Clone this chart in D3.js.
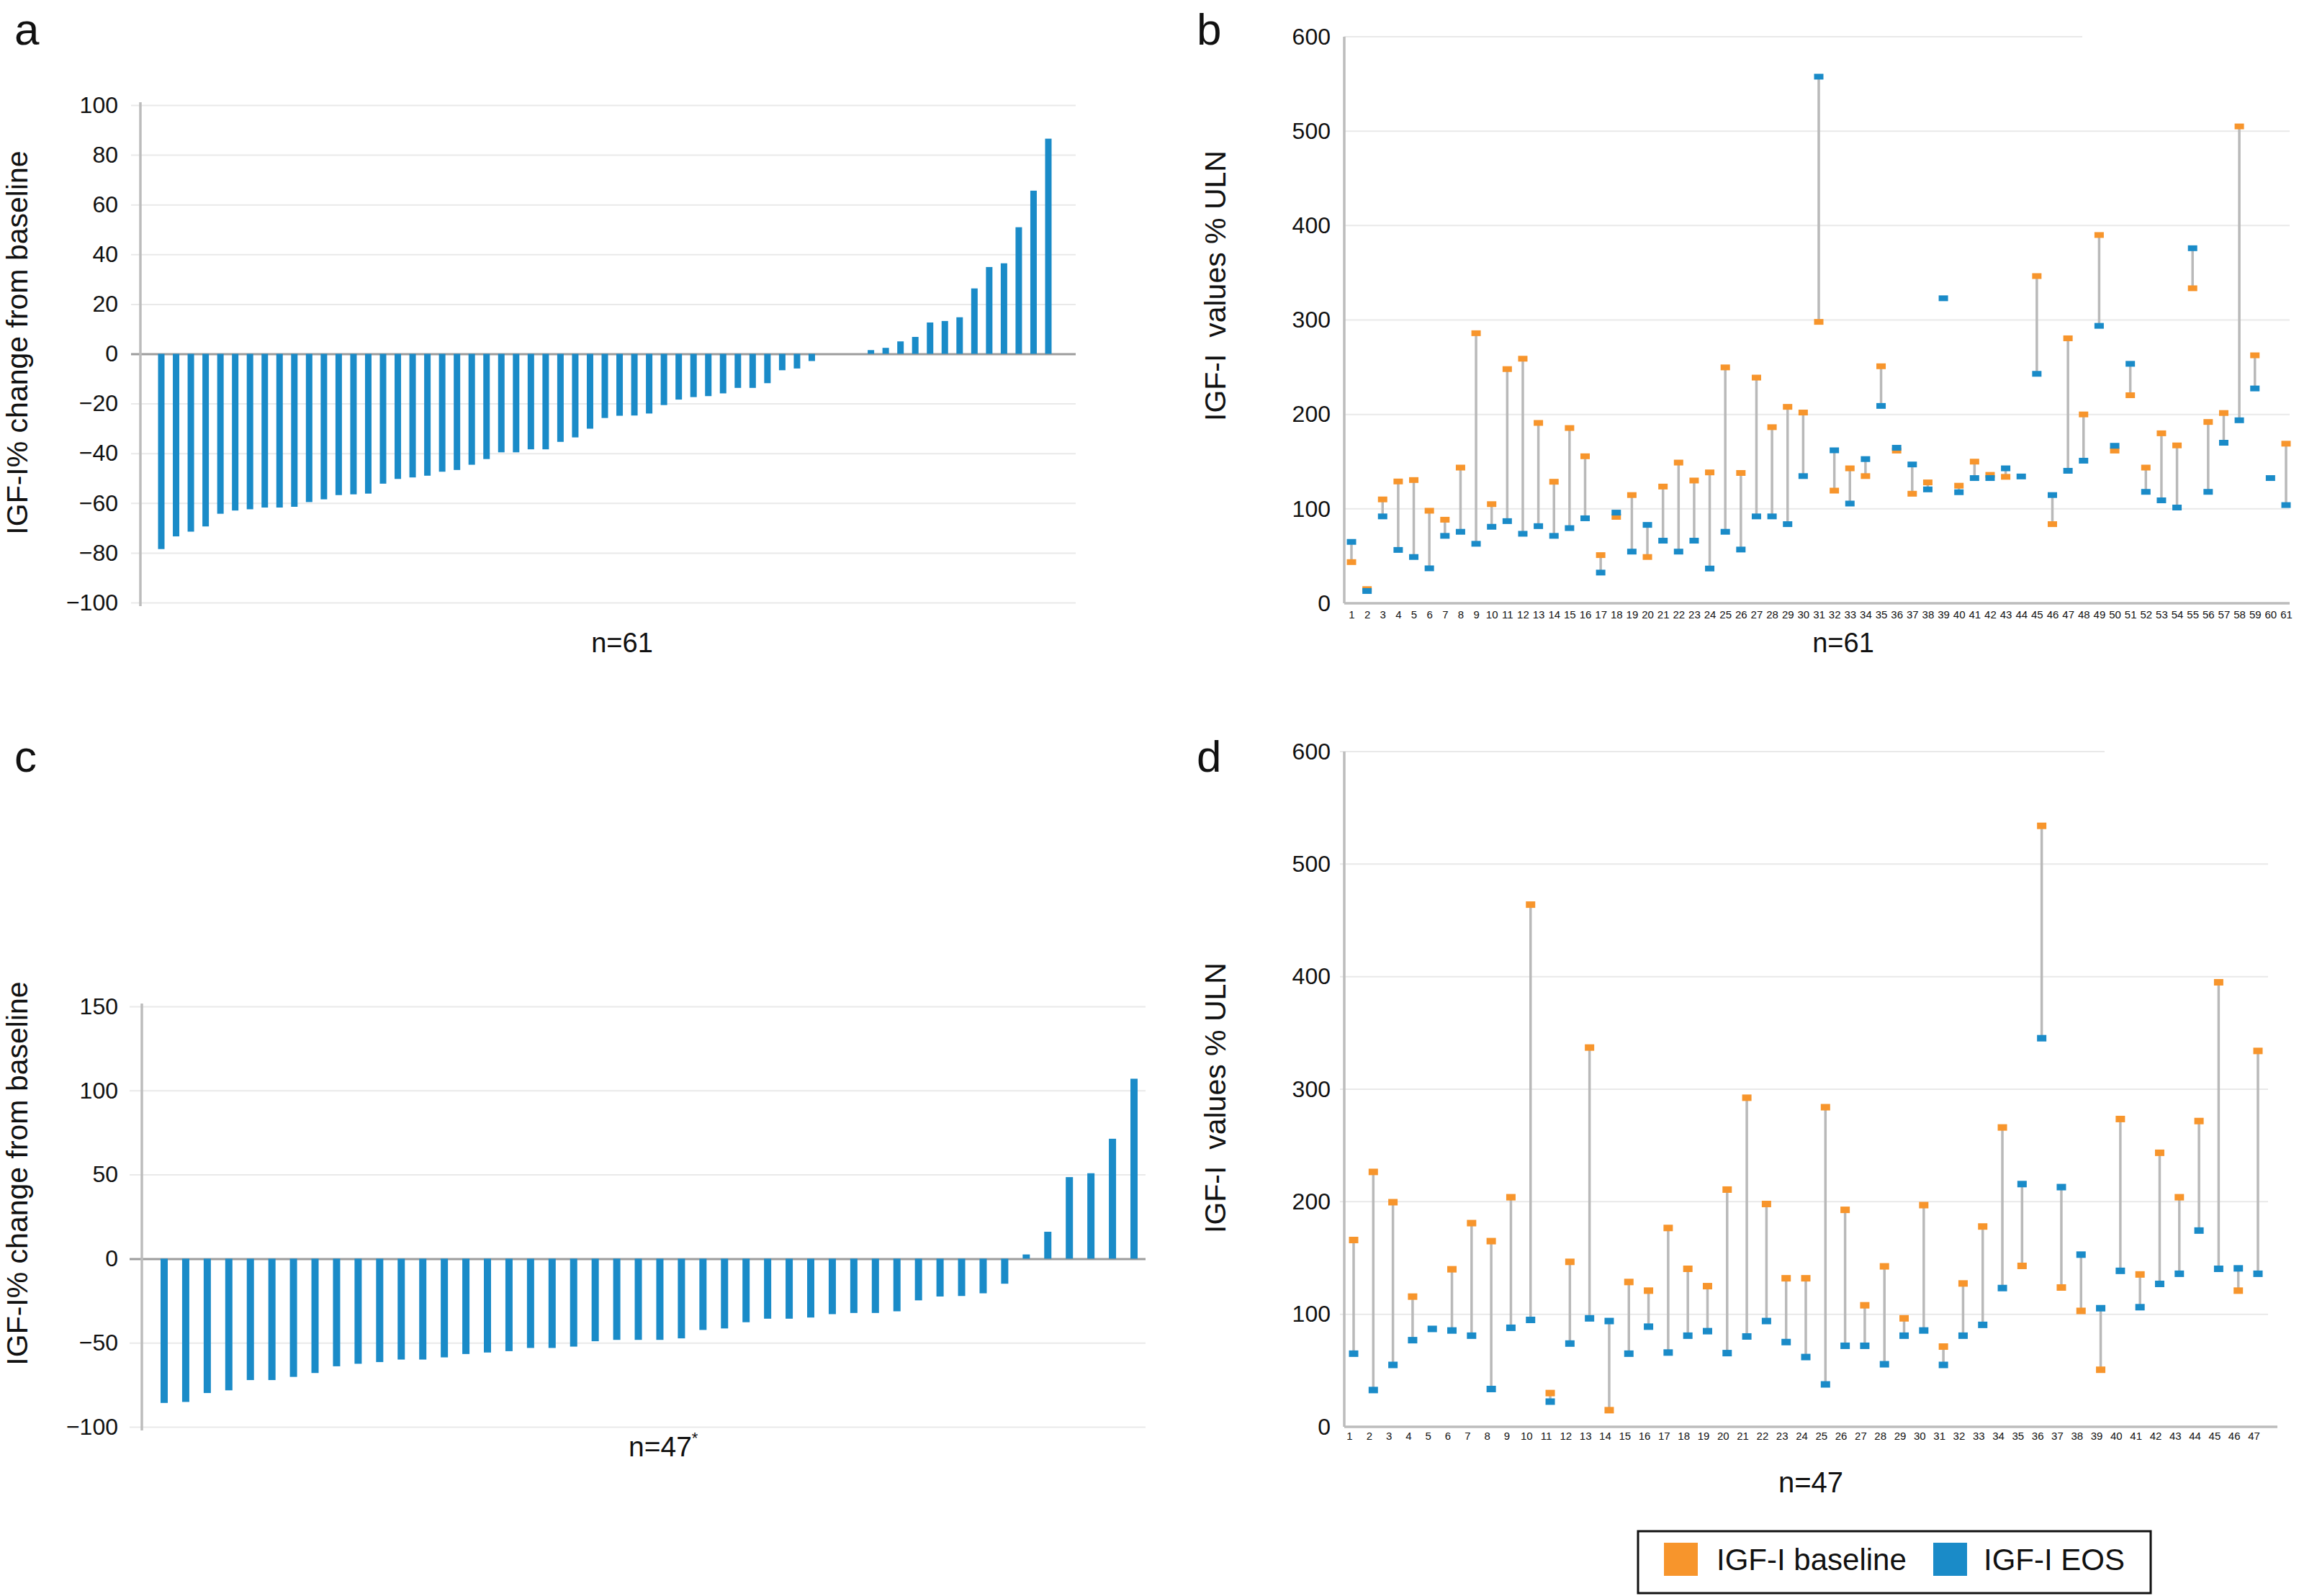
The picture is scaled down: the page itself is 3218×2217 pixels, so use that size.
<!DOCTYPE html>
<html><head><meta charset="utf-8">
<script src="https://cdn.jsdelivr.net/npm/d3@7"></script>
<style>
html,body{margin:0;padding:0;background:#fff;}
text{font-family:"Liberation Sans",Arial,Helvetica,sans-serif;fill:#111;}
</style>
</head><body>
<svg id="fig" width="3218" height="2217"></svg>
<script>
// ---------- DATA ----------
const aChange = [-78.5,-73.4,-71.5,-69.4,-64.3,-63,-62.5,-61.8,-61.8,-61.5,
  -59.6,-58.5,-56.8,-56.5,-56.2,-52.2,-50.3,-49.7,-49,-47.4,
  -46.7,-44.6,-42.3,-39.6,-39.6,-38.4,-38.4,-35.4,-33.6,-30.1,
  -25.8,-24.9,-24.8,-24.0,-20.6,-18.4,-17.4,-17.0,-15.9,-13.7,
  -13.7,-11.8,-6.6,-5.9,-2.9,0,0,0,1.5,2.4,
  5.0,6.8,12.6,13.2,14.7,26.3,34.9,36.4,50.9,65.6,86.5];
const cChange = [-85.8,-85.2,-79.9,-78.3,-72.2,-72.2,-70.3,-68,-64,-62.5,
  -61.5,-60,-60,-58.7,-56.7,-55.8,-55,-53.1,-53.1,-52.3,
  -49.1,-48.3,-48.3,-48.3,-47.4,-42.4,-41.5,-37.8,-35.7,-35.7,
  -35,-33,-32.3,-32.3,-31.3,-24.8,-22.5,-22.2,-20.6,-14.9,
  2.5,16,48.5,50.8,71.3,107];
const bBaseline = [43.6,15,110,129,130.5,98,88.5,143.7,286,105,
  248,259,191,128.7,185.6,155.7,51,91.5,114.6,49,
  123.6,149,130,138.6,249.8,138,239,186.5,208,202,
  298,119.3,142.9,134.7,251,161.7,116,128,null,124.5,
  150,136,133.9,null,346.5,83.8,280.6,200,390,161.7,
  220.3,143.7,180,167.2,333.6,192,201.5,505,262.6,null,169];
const bEOS = [65,13,92,56.5,49,37,71.4,75.7,63,81,
  87,73.6,81.7,71.4,79.6,90,32.5,96,54.7,83,
  66.3,54.7,66.3,36.8,75.7,56.9,92,92,83.8,134.7,
  557.7,162,105.6,152.7,209,164.7,147,120.6,323,117.6,
  132.6,132.6,142.9,134.3,243,114.6,140.3,151,293.8,166.8,
  253.6,118,109,101.4,376,118,170,193.8,227.5,132.6,104];
const dBaseline = [166,226.5,199.6,115.7,null,140,181,165,204,464,
  30,146.6,337,14.8,128.7,121,176.7,140.4,125,210.8,
  292.4,198,132,132,284,192.8,108,142.6,96.4,197,
  71.3,127.4,178,266,143,534,123.8,103,50.7,273.5,
  135.4,243.5,204,271.7,395,121,334];
const dEOS = [65,32.7,55,77,87,85.6,81,33.6,88,95,
  22.4,74,96.4,94,65,89,66,81,85,65.5,
  80.3,94,75.3,62,37.7,72,72,55.6,81,85.6,
  55,81,90.6,123.3,215.7,345.3,213,153,105.4,138.6,
  106.3,127,136,174.4,140.4,140.8,136];
const aTicks = [-100,-80,-60,-40,-20,0,20,40,60,80,100];
const cTicks = [-100,-50,0,50,100,150];
const bdTicks = [0,100,200,300,400,500,600];
const seriesNames = ["IGF-I baseline","IGF-I EOS"];
const changeTitle = "IGF-I% change from baseline";
const ulnTitle = "IGF-I\u00a0\u00a0values % ULN";

// ---------- DRAWING ----------
const ORANGE = "#F7952C", BLUE = "#1A8BC8", GRID = "#e9e9e9", AXIS = "#bcbcbc";
const svg = d3.select("#fig");
svg.append("rect").attr("width",3218).attr("height",2217).attr("fill","#fff");
const fmt = t => t < 0 ? "\u2212" + Math.abs(t) : String(t);

function panelLetter(t, x, y){
  svg.append("text").attr("x",x).attr("y",y).attr("font-size",62).text(t);
}
function yTitle(t, x, y){
  svg.append("text").attr("transform",`translate(${x},${y}) rotate(-90)`)
    .attr("text-anchor","middle").attr("font-size",41).text(t);
}

function barPanel(o){
  const g = svg.append("g");
  const y = d3.scaleLinear().domain(o.domain).range([o.yBot, o.yTop]);
  const x = d3.scalePoint().domain(d3.range(o.data.length)).range([o.x0, o.x1]);
  const ax = g.append("g").attr("transform",`translate(${o.axisX},0)`)
    .call(d3.axisLeft(y).tickValues(o.ticks).tickSize(-(o.gridRight-o.axisX)).tickPadding(o.axisX-o.labelRight).tickFormat(fmt));
  ax.select(".domain").remove();
  ax.selectAll(".tick line").attr("x1",-(o.axisX-o.gridLeft))
    .attr("stroke", d => d===0 ? "#9c9c9c" : GRID).attr("stroke-width", d => d===0 ? 3 : 2);
  ax.selectAll(".tick text").attr("font-size",32).attr("fill","#111")
    .attr("font-family",'"Liberation Sans",Arial,sans-serif');
  g.append("line").attr("x1",o.axisX).attr("x2",o.axisX).attr("y1",o.yTop-4).attr("y2",o.yBot+5)
    .attr("stroke",AXIS).attr("stroke-width",3.5);
  g.selectAll("rect.bar").data(o.data).join("rect").attr("class","bar")
    .attr("x",(d,i)=>x(i)-o.barW/2).attr("width",o.barW)
    .attr("y",d=>y(Math.max(d,0))).attr("height",d=>Math.abs(y(d)-y(0)))
    .attr("fill",BLUE);
}

function dumbbellPanel(o){
  const g = svg.append("g");
  const n = o.base.length;
  const y = d3.scaleLinear().domain([0,600]).range([o.yBot, o.yTop]);
  const x = d3.scalePoint().domain(d3.range(1,n+1)).range([o.x0, o.x1]);
  const ax = g.append("g").attr("transform",`translate(${o.axisX},0)`)
    .call(d3.axisLeft(y).tickValues(bdTicks).tickSize(0).tickPadding(o.axisX-o.labelRight).tickFormat(fmt));
  ax.select(".domain").remove();
  ax.selectAll(".tick text").attr("font-size",32).attr("fill","#111")
    .attr("font-family",'"Liberation Sans",Arial,sans-serif');
  g.selectAll("line.grid").data(bdTicks.filter(t=>t>0)).join("line").attr("class","grid")
    .attr("x1",o.gridLeft).attr("x2",d=>d===600?o.topGridRight:o.gridRight)
    .attr("y1",d=>y(d)).attr("y2",d=>y(d)).attr("stroke",GRID).attr("stroke-width",2);
  g.append("line").attr("x1",o.axisX).attr("x2",o.axisX).attr("y1",o.yTop).attr("y2",o.yBot)
    .attr("stroke",AXIS).attr("stroke-width",3.5);
  g.append("line").attr("x1",o.axisX).attr("x2",o.axisRight).attr("y1",o.yBot).attr("y2",o.yBot)
    .attr("stroke",AXIS).attr("stroke-width",3.5);
  const bx = g.append("g").attr("transform",`translate(${o.labelShift},${o.yBot})`)
    .call(d3.axisBottom(x).tickSize(0).tickPadding(o.labelPad));
  bx.select(".domain").remove();
  bx.selectAll(".tick text").attr("font-size",15).attr("fill","#222")
    .attr("font-family",'"Liberation Sans",Arial,sans-serif');
  const rows = d3.range(n).map(i=>({i:i+1,b:o.base[i],e:o.eos[i]}));
  g.selectAll("line.conn").data(rows.filter(r=>r.b!=null&&r.e!=null)).join("line").attr("class","conn")
    .attr("x1",r=>x(r.i)).attr("x2",r=>x(r.i)).attr("y1",r=>y(r.b)).attr("y2",r=>y(r.e))
    .attr("stroke","#b9b9b9").attr("stroke-width",3.5);
  g.selectAll("rect.ob").data(rows.filter(r=>r.b!=null)).join("rect").attr("class","ob")
    .attr("x",r=>x(r.i)-o.mw/2).attr("y",r=>y(r.b)-o.mh/2).attr("width",o.mw).attr("height",o.mh)
    .attr("fill",ORANGE);
  g.selectAll("rect.eb").data(rows.filter(r=>r.e!=null)).join("rect").attr("class","eb")
    .attr("x",r=>x(r.i)-o.mw/2).attr("y",r=>y(r.e)-o.mh/2).attr("width",o.mw).attr("height",o.mh)
    .attr("fill",BLUE);
}

barPanel({data:aChange, ticks:aTicks, domain:[-100,100], yTop:146, yBot:837,
  axisX:195, gridLeft:182, gridRight:1494, labelRight:164, x0:224, x1:1456, barW:9});
barPanel({data:cChange, ticks:cTicks, domain:[-100,150], yTop:1398, yBot:1982,
  axisX:197, gridLeft:180, gridRight:1591, labelRight:164, x0:228, x1:1575, barW:10});
dumbbellPanel({base:bBaseline, eos:bEOS, yTop:51, yBot:838, axisX:1867, labelRight:1848,
  gridLeft:1867, gridRight:3180, topGridRight:2892, axisRight:3180,
  x0:1877, x1:3175, labelShift:0, labelPad:10, mw:13, mh:8});
dumbbellPanel({base:dBaseline, eos:dEOS, yTop:1044, yBot:1982, axisX:1867, labelRight:1848,
  gridLeft:1861, gridRight:3150, topGridRight:2923, axisRight:3163,
  x0:1880, x1:3136, labelShift:-6, labelPad:7, mw:13, mh:9});

panelLetter("a",20,62);
panelLetter("b",1662,62);
panelLetter("c",20,1072);
panelLetter("d",1662,1072);

yTitle(changeTitle,38,476);
yTitle(changeTitle,38,1630);
yTitle(ulnTitle,1702,397);
yTitle(ulnTitle,1702,1525);

svg.append("text").attr("x",864).attr("y",906).attr("text-anchor","middle").attr("font-size",38).text("n=61");
svg.append("text").attr("x",2560).attr("y",906).attr("text-anchor","middle").attr("font-size",38).text("n=61");
const nc = svg.append("text").attr("x",873).attr("y",2023).attr("font-size",39);
nc.append("tspan").text("n=47");
nc.append("tspan").attr("font-size",22).attr("dy",-18).text("*");
svg.append("text").attr("x",2515).attr("y",2073).attr("text-anchor","middle").attr("font-size",40).text("n=47");

const lg = svg.append("g");
lg.append("rect").attr("x",2275).attr("y",2127).attr("width",712).attr("height",86)
  .attr("fill","none").attr("stroke","#111").attr("stroke-width",3);
const legendItems = [{name:seriesNames[0], color:ORANGE, sx:2311, tx:2384},
                     {name:seriesNames[1], color:BLUE, sx:2685, tx:2755}];
lg.selectAll("rect.sw").data(legendItems).join("rect").attr("class","sw")
  .attr("x",d=>d.sx).attr("y",2143).attr("width",47).attr("height",46).attr("fill",d=>d.color);
lg.selectAll("text.lt").data(legendItems).join("text").attr("class","lt")
  .attr("x",d=>d.tx).attr("y",2181).attr("font-size",42).text(d=>d.name);
</script>
</body></html>
